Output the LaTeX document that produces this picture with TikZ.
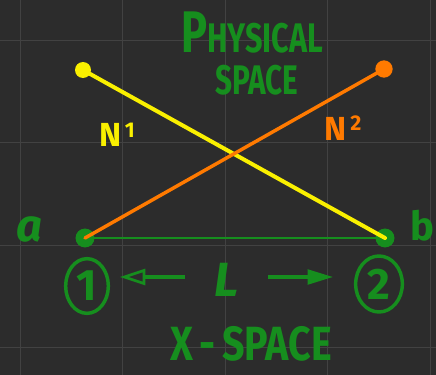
\documentclass[tikz,border=0pt]{standalone}
\usepackage{fontspec}
\usepackage{graphicx}
\setmainfont{Fira Sans}
\usetikzlibrary{arrows.meta,shapes.geometric}
\definecolor{board}{RGB}{44,44,44}
\definecolor{gridc}{RGB}{66,66,66}
\definecolor{chalkgreen}{RGB}{22,142,30}
\definecolor{chalkyellow}{RGB}{250,240,0}
\definecolor{chalkorange}{RGB}{255,122,0}
\tikzset{
  gridline/.style={draw=gridc,line width=0.6pt},
  gtext/.style={text=chalkgreen,font=\bfseries,inner sep=0pt},
  gdot/.style={circle,fill=chalkgreen,minimum size=14pt,inner sep=0pt},
  ydot/.style={circle,fill=chalkyellow,minimum size=12pt,inner sep=0pt},
  odot/.style={circle,fill=chalkorange,minimum size=13pt,inner sep=0pt},
  yline/.style={draw=chalkyellow,line width=3pt,line cap=round},
  oline/.style={draw=chalkorange,line width=2.6pt,line cap=round},
  gline/.style={draw=chalkgreen,line width=1.5pt},
  circnum/.style={ellipse,draw=chalkgreen,line width=2.6pt,text=chalkgreen,inner sep=0pt,font=\bfseries\fontsize{33}{33}\selectfont},
  garrow/.style={draw=chalkgreen,line width=2.3pt}
}
\begin{document}
\begin{tikzpicture}[x=0.75pt,y=-0.75pt]
\fill[board] (0,0) rectangle (436,375);
\useasboundingbox (0,0) rectangle (436,375);
\foreach \x in {20,122,225,327,430} \draw[gridline] (\x,0) -- (\x,375);
\foreach \y in {40,142,245,347} \draw[gridline] (0,\y) -- (436,\y);

% titles
\node[gtext] (phys) at (252,33) {\scalebox{0.74}[1]{\fontsize{44}{44}\selectfont P\fontsize{31}{31}\selectfont HYSICAL}};
\node[gtext] (space1) at (257,80) {\scalebox{0.72}[1]{\fontsize{31}{31}\selectfont SPACE}};
\node[gtext] (xspace) at (251,344) {\scalebox{0.82}[1]{\fontsize{36}{36}\selectfont X\,-\,SPACE}};

% baseline and points
\node[gdot] (a) at (85,238) {};
\node[gdot] (b) at (385,238) {};
\draw[gline] (a.center) -- (b.center);
\node[gdot] at (a.center) {};
\node[gdot] at (b.center) {};
\node[ydot] (y1) at (83,70) {};
\node[odot] (o1) at (384,69) {};
\draw[yline] (y1.center) -- (b.center);
\draw[oline] (a.center) -- (o1.center);

% labels a, b
\node[gtext,font=\bfseries\itshape\fontsize{34}{34}\selectfont] (la) at (29,229) {a};
\node[gtext,font=\bfseries\fontsize{30}{30}\selectfont,anchor=west] (lb) at (410,226) {b};

% N labels
\node[text=chalkyellow,font=\bfseries\fontsize{25}{25}\selectfont,inner sep=0pt] (n1) at (117,135) {N\raisebox{7pt}{\fontsize{16}{16}\selectfont\,1}};
\node[text=chalkorange,font=\bfseries\fontsize{25}{25}\selectfont,inner sep=0pt] (n2) at (343,128) {N\raisebox{7pt}{\fontsize{16}{16}\selectfont\,2}};

% circled numbers
\node[circnum,minimum width=32pt,minimum height=41pt] (c1) at (87,286) {1};
\node[circnum,minimum width=35pt,minimum height=42pt] (c2) at (379,284) {2};

% L and arrows
\node[gtext,font=\bfseries\itshape\fontsize{36}{36}\selectfont] (L) at (227,280) {L};
\coordinate (lt) at (120,277);
\coordinate (rt) at (333,277);
\draw[garrow,-{Triangle[open,length=19pt,width=12pt,line width=2pt]}] (185,277) -- (lt);
\draw[garrow,-{Triangle[length=19pt,width=11pt]}] (268,277) -- (rt);
\end{tikzpicture}
\end{document}
